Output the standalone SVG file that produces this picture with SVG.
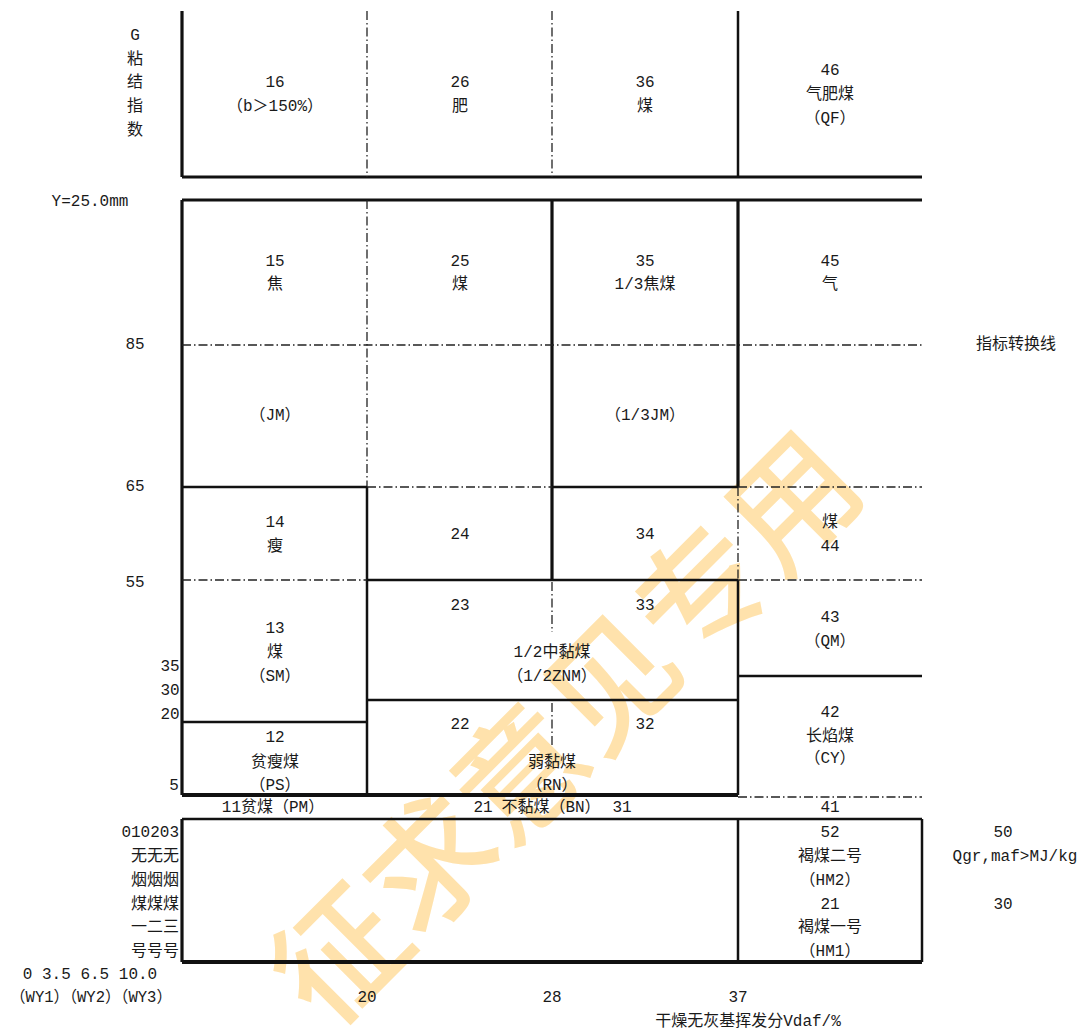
<svg xmlns="http://www.w3.org/2000/svg" width="1079" height="1031" viewBox="0 0 1079 1031">
<style>
text{font-family:"Liberation Mono","Noto Sans CJK SC",monospace;font-size:16px;fill:#1a1a1a;text-anchor:middle;dominant-baseline:central}
.r{text-anchor:end}
.s{stroke:#111;fill:none;stroke-width:2.5}
.t{stroke:#111;fill:none;stroke-width:3.2}
.b{stroke:#111;fill:none;stroke-width:4}
.d{stroke:#222;fill:none;stroke-width:1.3;stroke-dasharray:9 3 1.5 3}
.wm{font-family:"Noto Sans CJK SC",sans-serif;font-size:128px;fill:#FFE2AC;font-weight:500}
</style>
<rect width="1079" height="1031" fill="#fff"/>
<g id="watermark">
<text class="wm" x="560" y="722" transform="rotate(-45 560 722)">征求意见专用</text>
</g>
<g id="connectors">
<!-- top block -->
<path class="t" d="M182 11V177M182 177H922"/>
<path class="d" d="M367 11V177M552 11V177"/>
<path class="s" d="M738 11V177"/>
<!-- main block -->
<path class="t" d="M182 200H922M182 200V795"/>
<path class="d" d="M367 200V487"/>
<path class="s" d="M367 487V795"/>
<path class="t" d="M552 200V580M738 200V487"/>
<path class="d" d="M552 582V632M552 703V745M738 487V580"/>
<path class="s" d="M738 580V795"/>
<path class="d" d="M182 345H922"/>
<path class="s" d="M182 487H367M552 487H738"/>
<path class="d" d="M367 487H552M738 487H922"/>
<path class="d" d="M182 580H367M738 580H922"/>
<path class="s" d="M367 580H738"/>
<path class="s" d="M182 722H367M367 700H738M738 676H922"/>
<path class="b" d="M182 795H738"/>
<path class="d" d="M738 797H922"/>
<!-- bottom block -->
<path class="s" d="M182 819H922M922 819V962M738 819V962"/>
<path class="t" d="M182 819V962"/>
<path class="b" d="M182 962H922"/>
</g>
<g id="axis-g">
<text x="135" y="36">G</text>
<text x="135" y="60">粘</text>
<text x="135" y="83">结</text>
<text x="135" y="107">指</text>
<text x="135" y="131">数</text>
<text x="90" y="202">Y=25.0mm</text>
<text x="135" y="345">85</text>
<text x="135" y="487">65</text>
<text x="135" y="583">55</text>
<text x="170" y="667">35</text>
<text x="170" y="691">30</text>
<text x="170" y="715">20</text>
<text x="174" y="786">5</text>
</g>
<g id="axis-wy">
<text class="r" x="179" y="833">010203</text>
<text class="r" x="179" y="857">无无无</text>
<text class="r" x="179" y="881">烟烟烟</text>
<text class="r" x="179" y="905">煤煤煤</text>
<text class="r" x="179" y="928">一二三</text>
<text class="r" x="179" y="952">号号号</text>
<text x="90" y="975">0 3.5 6.5 10.0</text>
<text x="91" y="998" textLength="162" lengthAdjust="spacingAndGlyphs">（WY1）（WY2）（WY3）</text>
</g>
<g id="axis-v">
<text x="367" y="998">20</text>
<text x="552" y="998">28</text>
<text x="738" y="998">37</text>
<text x="748" y="1022">干燥无灰基挥发分Vdaf/%</text>
</g>
<g id="axis-right">
<text x="1016" y="345">指标转换线</text>
<text x="1003" y="833">50</text>
<text x="1015" y="857">Qgr,maf&gt;MJ/kg</text>
<text x="1003" y="905">30</text>
</g>
<g id="cell-16"><text x="275" y="83">16</text><text x="275" y="107">（b＞150%）</text></g>
<g id="cell-26"><text x="460" y="83">26</text><text x="460" y="107">肥</text></g>
<g id="cell-36"><text x="645" y="83">36</text><text x="645" y="107">煤</text></g>
<g id="cell-46"><text x="830" y="71">46</text><text x="830" y="95">气肥煤</text><text x="830" y="119">（QF）</text></g>
<g id="cell-15"><text x="275" y="262">15</text><text x="275" y="285">焦</text><text x="275" y="416">（JM）</text></g>
<g id="cell-25"><text x="460" y="262">25</text><text x="460" y="285">煤</text></g>
<g id="cell-35"><text x="645" y="262">35</text><text x="645" y="285">1/3焦煤</text><text x="645" y="416">（1/3JM）</text></g>
<g id="cell-45"><text x="830" y="262">45</text><text x="830" y="285">气</text></g>
<g id="cell-14"><text x="275" y="523">14</text><text x="275" y="547">瘦</text></g>
<g id="cell-24"><text x="460" y="535">24</text></g>
<g id="cell-34"><text x="645" y="535">34</text></g>
<g id="cell-44"><text x="830" y="523">煤</text><text x="830" y="547">44</text></g>
<g id="cell-13"><text x="275" y="629">13</text><text x="275" y="653">煤</text><text x="275" y="677">（SM）</text></g>
<g id="cell-23-33"><text x="460" y="606">23</text><text x="645" y="606">33</text><text x="552" y="653">1/2中黏煤</text><text x="552" y="677">（1/2ZNM）</text></g>
<g id="cell-43"><text x="830" y="618">43</text><text x="830" y="642">（QM）</text></g>
<g id="cell-12"><text x="275" y="738">12</text><text x="275" y="763">贫瘦煤</text><text x="275" y="786">（PS）</text></g>
<g id="cell-22-32"><text x="460" y="725">22</text><text x="645" y="725">32</text><text x="552" y="763">弱黏煤</text><text x="552" y="786">（RN）</text></g>
<g id="cell-42"><text x="830" y="713">42</text><text x="830" y="737">长焰煤</text><text x="830" y="759">（CY）</text></g>
<g id="cell-11"><text x="273" y="808">11贫煤（PM）</text></g>
<g id="cell-21-31"><text x="483" y="808">21</text><text x="551" y="808">不黏煤（BN）</text><text x="622" y="808">31</text></g>
<g id="cell-41"><text x="830" y="808">41</text></g>
<g id="cell-52-51"><text x="830" y="833">52</text><text x="830" y="857">褐煤二号</text><text x="830" y="881">（HM2）</text><text x="830" y="905">21</text><text x="830" y="928">褐煤一号</text><text x="830" y="952">（HM1）</text></g>
</svg>
